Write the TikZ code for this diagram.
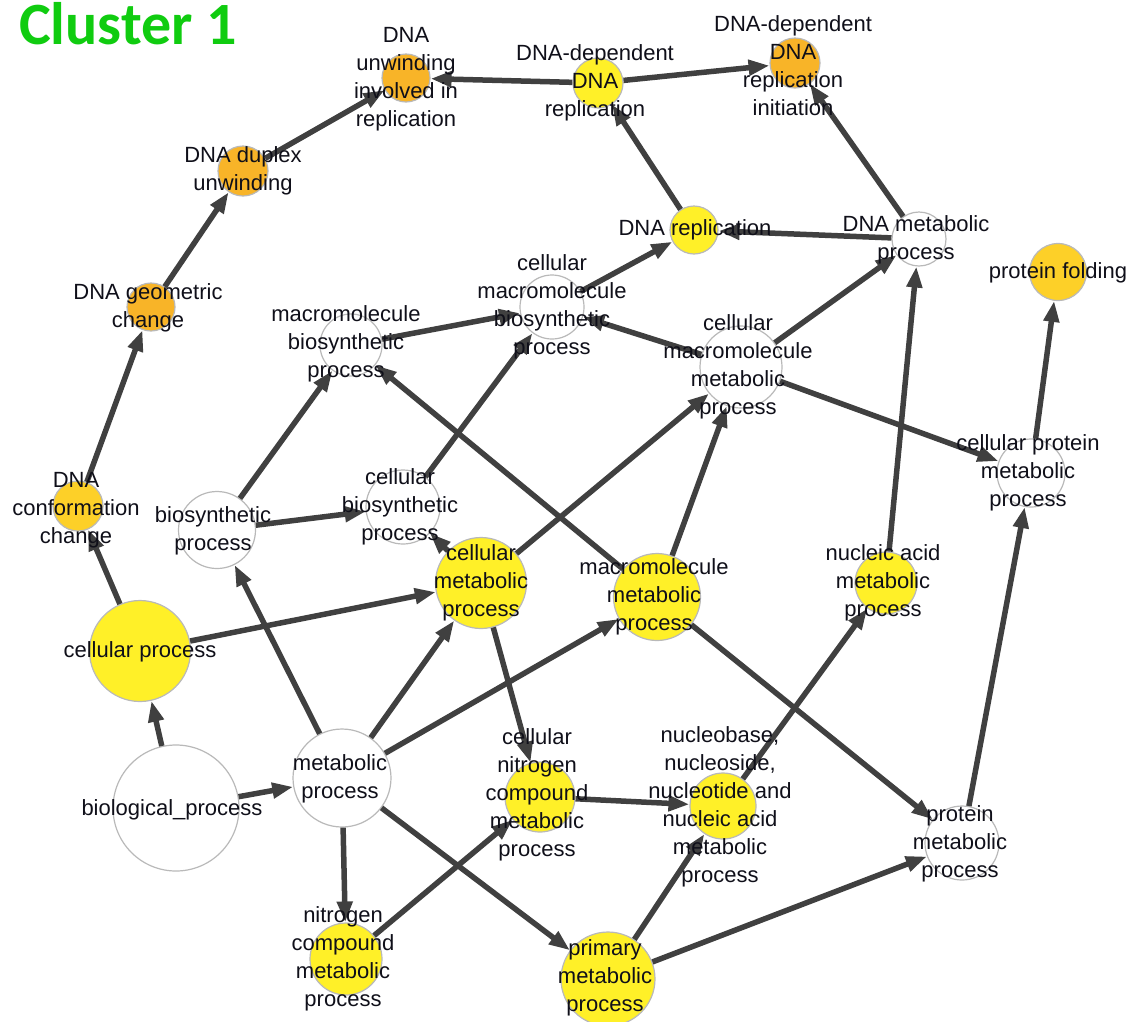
\documentclass[tikz,border=0pt]{standalone}
\usepackage{fontspec}
\setmainfont{Liberation Sans}
\newfontfamily\titlefont{Carlito}
\usetikzlibrary{arrows.meta}
\definecolor{orangeN}{RGB}{248,180,40}
\definecolor{goldN}{RGB}{253,208,40}
\definecolor{yellowN}{RGB}{255,240,40}
\definecolor{edgeC}{RGB}{64,64,64}
\definecolor{titleG}{RGB}{16,204,16}
\definecolor{txtC}{RGB}{15,15,25}
\begin{document}
\begin{tikzpicture}[x=1pt,y=-1pt,
  gonode/.style={circle,draw=gray!55,line width=1.2pt,inner sep=0pt,minimum size=#1},
  lbl/.style={align=center,inner sep=0pt,text=txtC,font=\fontsize{22}{28}\selectfont},
  edge/.style={draw=edgeC,line width=5.5pt,-{Triangle[length=21pt,width=15pt]}}
]
\useasboundingbox (0,0) rectangle (1134,1021);
% title
\node[anchor=base west,inner sep=0pt,text=titleG,font=\titlefont\bfseries\fontsize{60}{62}\selectfont] (title) at (19,44) {Cluster 1};
% circles
\node[gonode=48pt,fill=orangeN] (dui) at (406,78) {};
\node[gonode=50pt,fill=yellowN] (ddr) at (598,83) {};
\node[gonode=50pt,fill=orangeN] (ddri) at (795,63) {};
\node[gonode=50pt,fill=orangeN] (dud) at (243,171) {};
\node[gonode=48pt,fill=orangeN] (dgc) at (151,307) {};
\node[gonode=48pt,fill=yellowN] (dr) at (694,230) {};
\node[gonode=54pt,fill=white] (dmp) at (919,239) {};
\node[gonode=57pt,fill=goldN] (pf) at (1058,272) {};
\node[gonode=62pt,fill=white] (mbp) at (351,345) {};
\node[gonode=64pt,fill=white] (cmbp) at (552,307) {};
\node[gonode=82pt,fill=white] (cmmp) at (741,367) {};
\node[gonode=68pt,fill=white] (cprot) at (1031,473) {};
\node[gonode=50pt,fill=goldN] (dcc) at (78,506) {};
\node[gonode=77pt,fill=white] (bsp) at (217,530) {};
\node[gonode=74pt,fill=white] (cbp) at (403,507) {};
\node[gonode=91pt,fill=yellowN] (cmp) at (481,583) {};
\node[gonode=87pt,fill=yellowN] (mmp) at (657,597) {};
\node[gonode=62pt,fill=yellowN] (nap) at (886,583) {};
\node[gonode=101pt,fill=yellowN] (cp) at (140,651) {};
\node[gonode=126pt,fill=white] (bp) at (176,808) {};
\node[gonode=98pt,fill=white] (mp) at (342,778) {};
\node[gonode=70pt,fill=yellowN] (cncmp) at (540,797) {};
\node[gonode=66pt,fill=yellowN] (nuc) at (723,806) {};
\node[gonode=74pt,fill=white] (pmp) at (962,843) {};
\node[gonode=72pt,fill=yellowN] (ncmp) at (346,959) {};
\node[gonode=94pt,fill=yellowN] (prim) at (608,979) {};
% edges
\draw[edge] (bp) -- (cp);
\draw[edge] (bp) -- (mp);
\draw[edge] (cp) -- (dcc);
\draw[edge] (cp) -- (cmp);
\draw[edge] (dcc) -- (dgc);
\draw[edge] (dgc) -- (dud);
\draw[edge] (dud) -- (dui);
\draw[edge] (ddr) -- (dui);
\draw[edge] (ddr) -- (ddri);
\draw[edge] (dr) -- (ddr);
\draw[edge] (dmp) -- (ddri);
\draw[edge] (dmp) -- (dr);
\draw[edge] (cmbp) -- (dr);
\draw[edge] (mbp) -- (cmbp);
\draw[edge] (cmmp) -- (cmbp);
\draw[edge] (cmmp) -- (dmp);
\draw[edge] (cmmp) -- (cprot);
\draw[edge] (cbp) -- (cmbp);
\draw[edge] (bsp) -- (mbp);
\draw[edge] (bsp) -- (cbp);
\draw[edge] (mp) -- (bsp);
\draw[edge] (mmp) -- (mbp);
\draw[edge] (cmp) -- (cmmp);
\draw[edge] (mmp) -- (cmmp);
\draw[edge] (cmp) -- (cbp);
\draw[edge] (mp) -- (cmp);
\draw[edge] (mp) -- (mmp);
\draw[edge] (mp) -- (ncmp);
\draw[edge] (mp) -- (prim);
\draw[edge] (cmp) -- (cncmp);
\draw[edge] (ncmp) -- (cncmp);
\draw[edge] (cncmp) -- (nuc);
\draw[edge] (prim) -- (nuc);
\draw[edge] (nuc) -- (nap);
\draw[edge] (nap) -- (dmp);
\draw[edge] (mmp) -- (pmp);
\draw[edge] (prim) -- (pmp);
\draw[edge] (pmp) -- (cprot);
\draw[edge] (cprot) -- (pf);
% labels
\node[lbl] (l-dui) at (406,79) {DNA\\unwinding\\involved in\\replication};
\node[lbl] (l-ddr) at (595,83) {DNA-dependent\\DNA\\replication};
\node[lbl] (l-ddri) at (793,66) {DNA-dependent\\DNA\\replication\\initiation};
\node[lbl] (l-dud) at (243,171) {DNA duplex\\unwinding};
\node[lbl] (l-dgc) at (148,308) {DNA geometric\\change};
\node[lbl] (l-dr) at (695,230) {DNA replication};
\node[lbl] (l-dmp) at (916,240) {DNA metabolic\\process};
\node[lbl] (l-pf) at (1058,273) {protein folding};
\node[lbl] (l-mbp) at (346,344) {macromolecule\\biosynthetic\\process};
\node[lbl] (l-cmbp) at (552,307) {cellular\\macromolecule\\biosynthetic\\process};
\node[lbl] (l-cmmp) at (738,367) {cellular\\macromolecule\\metabolic\\process};
\node[lbl] (l-cprot) at (1028,473) {cellular protein\\metabolic\\process};
\node[lbl] (l-dcc) at (76,510) {DNA\\conformation\\change};
\node[lbl] (l-bsp) at (213,531) {biosynthetic\\process};
\node[lbl] (l-cbp) at (400,507) {cellular\\biosynthetic\\process};
\node[lbl] (l-cmp) at (481,583) {cellular\\metabolic\\process};
\node[lbl] (l-mmp) at (654,597) {macromolecule\\metabolic\\process};
\node[lbl] (l-nap) at (883,583) {nucleic acid\\metabolic\\process};
\node[lbl] (l-cp) at (140,652) {cellular process};
\node[lbl] (l-bp) at (172,810) {biological\_process};
\node[lbl] (l-mp) at (340,779) {metabolic\\process};
\node[lbl] (l-cncmp) at (537,795) {cellular\\nitrogen\\compound\\metabolic\\process};
\node[lbl] (l-nuc) at (720,807) {nucleobase,\\nucleoside,\\nucleotide and\\nucleic acid\\metabolic\\process};
\node[lbl] (l-pmp) at (960,844) {protein\\metabolic\\process};
\node[lbl] (l-ncmp) at (343,959) {nitrogen\\compound\\metabolic\\process};
\node[lbl] (l-prim) at (605,978) {primary\\metabolic\\process};
\end{tikzpicture}
\end{document}
